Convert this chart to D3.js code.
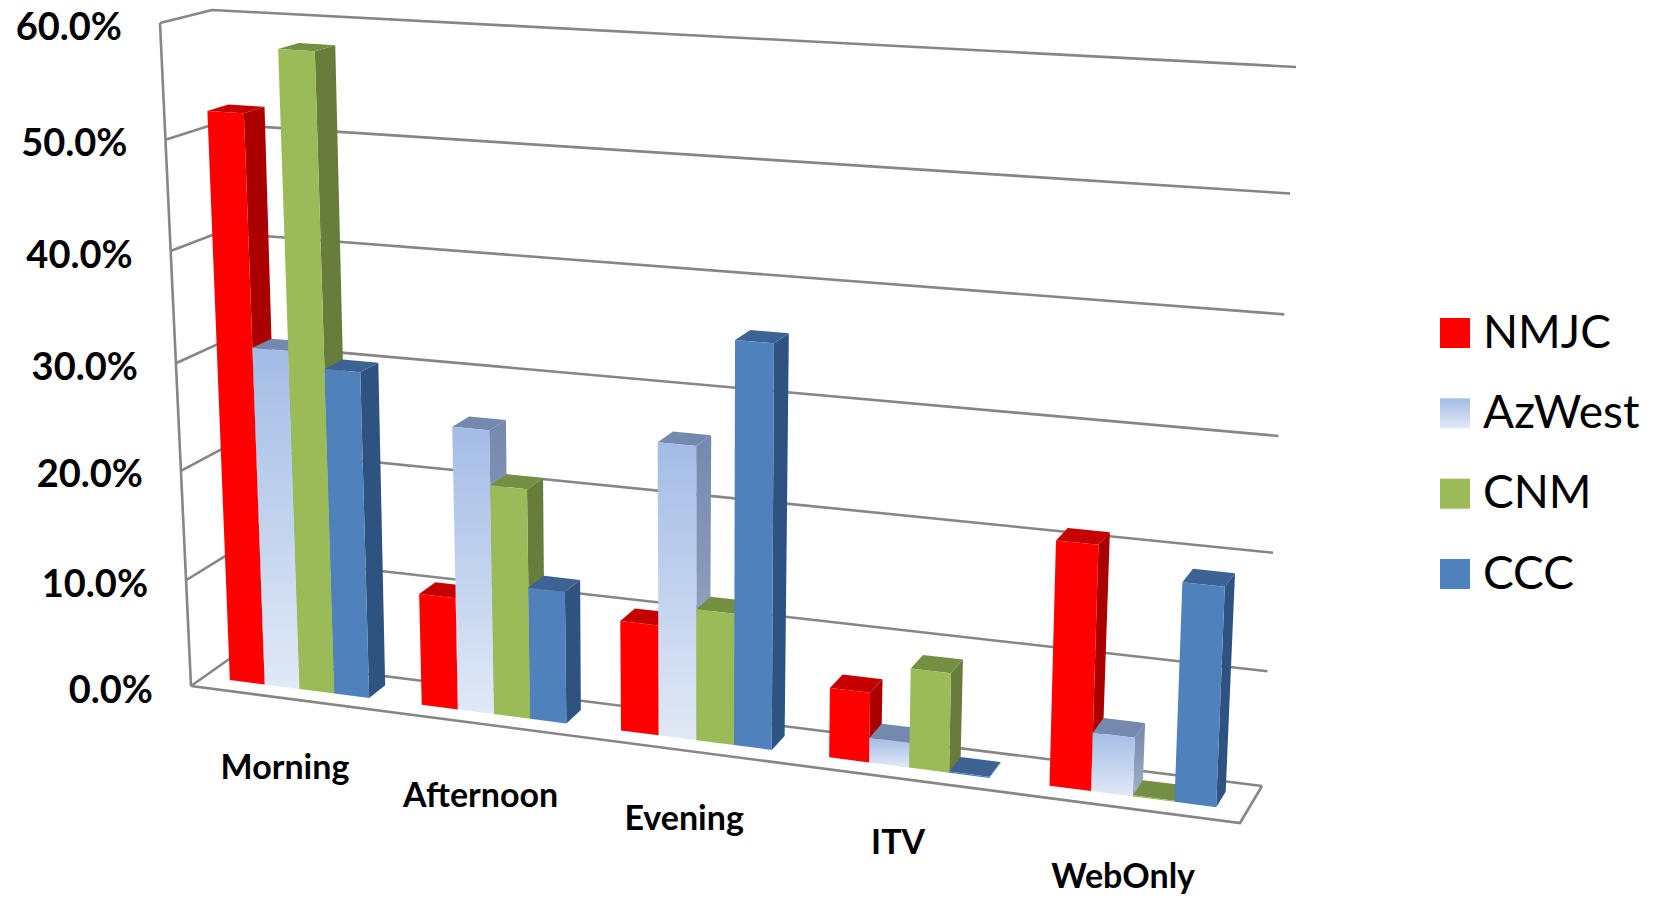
<!DOCTYPE html>
<html><head><meta charset="utf-8">
<script src="https://cdn.jsdelivr.net/npm/d3@7"></script>
<style>html,body{margin:0;padding:0;background:#fff}svg{display:block}</style>
</head><body><svg id="c" width="1659" height="897"></svg>
<script>
const categories = ["Morning","Afternoon","Evening","ITV","WebOnly"];
const seriesNames = ["NMJC","AzWest","CNM","CCC"];
const NMJC   = [0.522,0.103,0.100,0.062,0.211];
const AzWest = [0.313,0.258,0.262,0.022,0.051];
const CNM    = [0.579,0.208,0.118,0.088,0.001];
const CCC    = [0.300,0.120,0.357,0.001,0.187];
const seriesValues = [NMJC,AzWest,CNM,CCC];
const tickValues = [0,0.1,0.2,0.3,0.4,0.5,0.6];

const faces = {
  NMJC:{front:"#ff0000",side:"#aa0000",top:"#c60000"},
  AzWest:{front:"url(#az)",side:"url(#azs)",top:"#7389ae"},
  CNM:{front:"#9bbb59",side:"#677d3b",top:"#748f43"},
  CCC:{front:"#4f81bd",side:"#2f5380",top:"#3c6494"}
};
// projection: corners of the 3D box
const C = {
  fbl:[191,686], bbl:[232,657], fbr:[1240,823], bbr:[1262,786],
  ftl:[160,23],  btl:[212,10],  ftr:[1268,88],  btr:[1296,67]
};
const uScale = d3.scaleLinear().domain([0,1,2,3,4,5]).range([0,.183,.373,.571,.781,1]);
const vScale = d3.scaleLinear().domain(tickValues).range([0,.1595,.3245,.4868,.656,.824,1]);
const wScale = d3.scaleLinear().domain([0,1]).range([0,1]);
const mix=(a,b,t)=>[a[0]+(b[0]-a[0])*t,a[1]+(b[1]-a[1])*t];
function P(cat,val,depth){
  const u=uScale(cat),v=vScale(val),w=wScale(depth);
  const bf=mix(C.fbl,C.fbr,u),bb=mix(C.bbl,C.bbr,u),tf=mix(C.ftl,C.ftr,u),tb=mix(C.btl,C.btr,u);
  return mix(mix(bf,bb,w),mix(tf,tb,w),v);
}
const poly=d3.line().curve(d3.curveLinearClosed);
const seg=d3.line();
const svg=d3.select("#c");
const defs=svg.append("defs");
defs.append("filter").attr("id","soft").attr("x","-5%").attr("y","-5%").attr("width","110%").attr("height","110%")
  .append("feGaussianBlur").attr("stdDeviation",0.7);
function grad(id,a,b){
  const g=defs.append("linearGradient").attr("id",id).attr("x1",0).attr("y1",0).attr("x2",0).attr("y2",1);
  g.append("stop").attr("offset","0%").attr("stop-color",a);
  g.append("stop").attr("offset","100%").attr("stop-color",b);
}
grad("az","#a3bce6","#e1e9f6");
grad("azs","#7389ae","#a3aec4");

const plot=svg.append("g").attr("filter","url(#soft)");
const gridG=plot.append("g").attr("fill","none").attr("stroke","#868686").attr("stroke-width",2.6);
const maxV=tickValues[tickValues.length-1];
// back wall and left wall gridlines
tickValues.forEach(t=>{
  gridG.append("path").attr("d",seg([P(0,t,0),P(0,t,1),P(5,t,1)]));
});
gridG.append("path").attr("d",seg([P(0,0,0),P(0,maxV,0)]));
gridG.append("path").attr("d",seg([P(0,0,0),P(5,0,0),P(5,0,1)]));

// bars
const pad=.135, barW=(1-2*pad)/4, d0=.32, d1=.74;
const barG=plot.append("g");
categories.forEach((c,i)=>{
  seriesNames.forEach((s,j)=>{
    const val=seriesValues[j][i], a=i+pad+j*barW, b=a+barW, f=faces[s];
    const g=barG.append("g");
    g.append("path").attr("fill",f.side).attr("d",poly([P(b,0,d0),P(b,0,d1),P(b,val,d1),P(b,val,d0)]));
    g.append("path").attr("fill",f.top).attr("d",poly([P(a,val,d0),P(b,val,d0),P(b,val,d1),P(a,val,d1)]));
    g.append("path").attr("fill",f.front).attr("d",poly([P(a,0,d0),P(b,0,d0),P(b,val,d0),P(a,val,d0)]));
  });
});

// value axis labels
const font="Lato, Carlito, sans-serif";
const pct=d3.format(".1%");
const textG=svg.append("g").attr("font-family",font).attr("fill","#000");
textG.selectAll("text.t").data(tickValues).join("text").attr("class","t")
  .attr("x",d=>P(0,d,0)[0]-38).attr("y",d=>P(0,d,0)[1]+1.5)
  .attr("text-anchor","end").attr("dominant-baseline","central")
  .attr("font-size",38).attr("font-weight",700).text(d=>pct(d));
// category labels
const catDrop=[67,69,66,62,67];
textG.selectAll("text.c").data(categories).join("text").attr("class","c")
  .attr("x",(d,i)=>P(i+.5,0,0)[0]-2).attr("y",(d,i)=>P(i+.5,0,0)[1]+catDrop[i])
  .attr("text-anchor","middle").attr("dominant-baseline","central")
  .attr("font-size",34).attr("font-weight",700).text(d=>d);
// legend
const legY=d3.scalePoint().domain(seriesNames).range([333,574]);
const leg=svg.append("g");
const legendFill={NMJC:"#ff0000",AzWest:"url(#azl)",CNM:"#9bbb59",CCC:"#4f81bd"};
grad("azl","#a3bce6","#e1e9f6");
seriesNames.forEach(s=>{
  leg.append("rect").attr("x",1440).attr("y",legY(s)-15).attr("width",30).attr("height",30).attr("fill",legendFill[s]);
  leg.append("text").attr("x",1483).attr("y",legY(s)-3).attr("dominant-baseline","central")
    .attr("font-family",font).attr("font-size",46).attr("fill","#000").text(s);
});
</script></body></html>
